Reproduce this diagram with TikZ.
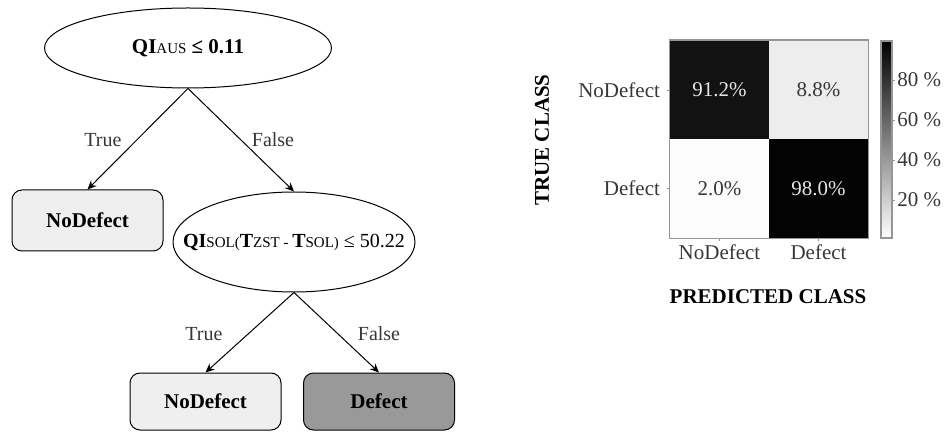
\documentclass[tikz,border=0pt]{standalone}
\usepackage{fontspec}
\setmainfont{Liberation Serif}
\usetikzlibrary{arrows.meta, shapes.geometric}
\definecolor{leafgray}{RGB}{239,239,239}
\definecolor{defgray}{RGB}{153,153,153}
\definecolor{framegray}{RGB}{150,150,150}
\definecolor{edgetext}{RGB}{55,55,55}
\newcommand{\smallcap}[1]{{\fontsize{7.5}{9}\selectfont #1}}

\begin{document}
\begin{tikzpicture}[x=0.5pt, y=-0.5pt,
  split/.style={draw, ellipse, inner sep=0pt, line width=0.5pt, font=\fontsize{10.5}{12}\selectfont},
  leaf/.style={draw, rounded corners=5pt, line width=0.5pt, minimum width=75.5pt, font=\fontsize{10.5}{12}\selectfont\bfseries},
  edge/.style={-{Stealth[length=4.5pt,width=4pt]}, line width=0.5pt},
  elabel/.style={text=edgetext, font=\fontsize{10}{12}\selectfont},
  cell/.style={minimum size=49.5pt, inner sep=0pt, font=\fontsize{10.5}{12}\selectfont},
  lbl/.style={text=edgetext, font=\fontsize{10.5}{12}\selectfont},
  axtitle/.style={font=\fontsize{10.5}{12}\selectfont\bfseries}
]
  \useasboundingbox (0,0) rectangle (945,432);

  % decision tree
  \node[split, minimum width=143.5pt, minimum height=40pt] (aus) at (188,48)
    {\makebox[0pt]{\textbf{QI}\smallcap{AUS} \textbf{≤ 0.11}}};
  \node[leaf, fill=leafgray, minimum height=30.5pt] (nd1) at (87.5,220.5) {NoDefect};
  \node[split, minimum width=121pt, minimum height=50pt, font=\fontsize{10}{12}\selectfont] (sol) at (294,242)
    {\makebox[0pt]{\textbf{QI}\smallcap{SOL(}\textbf{T}\smallcap{ZST - }\textbf{T}\smallcap{SOL)} ≤ 50.22}};
  \node[leaf, fill=leafgray, minimum height=28.5pt] (nd2) at (205.5,401.5) {NoDefect};
  \node[leaf, fill=defgray, minimum height=28.5pt] (def) at (379,401.5) {Defect};

  \draw[edge] (aus.south) -- (nd1.north);
  \draw[edge] (aus.south) -- (sol.north);
  \draw[edge] (sol.south) -- (nd2.north);
  \draw[edge] (sol.south) -- (def.north);
  \node[elabel] (t1) at (103,140) {True};
  \node[elabel] (f1) at (273,140) {False};
  \node[elabel] (t2) at (204,334) {True};
  \node[elabel] (f2) at (379,334) {False};

  % confusion matrix
  \node[cell, fill=black!93, text=black!10] (c11) at (719.5,90) {91.2\%};
  \node[cell, fill=black!7, text=edgetext] (c12) at (818.5,90) {8.8\%};
  \node[cell, fill=black!1, text=edgetext] (c21) at (719.5,188.5) {2.0\%};
  \node[cell, fill=black!99, text=black!10] (c22) at (818.5,188.5) {98.0\%};
  \draw[framegray, line width=0.6pt] (c11.north west) rectangle (c22.south east);

  \foreach \y/\name in {90/NoDefect, 188.5/Defect} {
    \draw[framegray] (667,\y) -- (670,\y);
    \node[lbl, anchor=east] at (667,\y) {\name};
  }
  \foreach \x/\name in {719.5/NoDefect, 818.5/Defect} {
    \draw[framegray] (\x,238) -- (\x,241);
    \node[lbl] at (\x,252) {\name};
  }
  \node[axtitle, rotate=90] (tc) at (542,140) {TRUE CLASS};
  \node[axtitle] (pc) at (768,297) {PREDICTED CLASS};

  % colour bar
  \shade[top color=black, bottom color=white] (881,41) rectangle (892,238);
  \draw[framegray, line width=0.6pt] (881,41) rectangle (892,238);
  \foreach \p in {20,40,60,80} {
    \draw[framegray] (892,240-2*\p) -- (895,240-2*\p);
    \node[lbl, anchor=west, inner sep=1pt] at (895,240-2*\p) {\p{} \%};
  }
\end{tikzpicture}
\end{document}
